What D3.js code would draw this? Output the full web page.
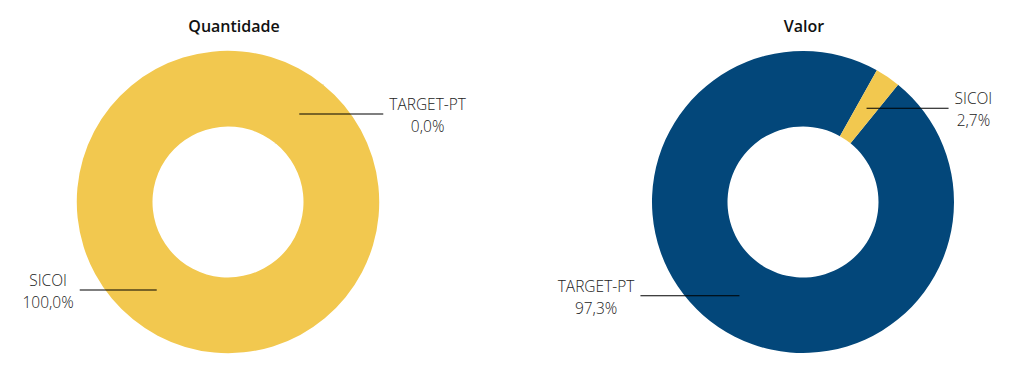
<!DOCTYPE html>
<html>
<head>
<meta charset="utf-8">
<script src="https://cdn.jsdelivr.net/npm/d3@7"></script>
<style>
  html, body { margin: 0; padding: 0; background: #fff; }
  svg { display: block; }
</style>
</head>
<body>
<svg id="chart" width="1030" height="379"></svg>
<script>
// ---- data ----
const categories = ["TARGET-PT", "SICOI"];
const quantidadeValues = [0.0, 100.0];
const valorValues = [97.3, 2.7];
const chartTitles = ["Quantidade", "Valor"];

// ---- layout / style ----
const colors = { "TARGET-PT": "#03477A", "SICOI": "#F2C84F" };
const W = 1030, H = 379;
const outerR = 151, innerR = 75.5;
const startAngle = 39 * Math.PI / 180;
const panels = [
  { title: chartTitles[0], values: quantidadeValues, cx: 228, cy: 202, titleX: 234,
    lineLen: { "TARGET-PT": 84, "SICOI": 77 } },
  { title: chartTitles[1], values: valorValues, cx: 803, cy: 202, titleX: 804,
    lineLen: { "TARGET-PT": 99, "SICOI": 82 } }
];

const svg = d3.select("#chart");
const fmt = v => d3.format(".1f")(v).replace(".", ",") + "%";

const pie = d3.pie().sort(null).value(d => d.value)
  .startAngle(startAngle).endAngle(startAngle + 2 * Math.PI);
const arc = d3.arc().innerRadius(innerR).outerRadius(outerR);

panels.forEach(p => {
  const g = svg.append("g").attr("transform", `translate(${p.cx},${p.cy})`);
  const data = categories.map((c, i) => ({ name: c, value: p.values[i] }));
  const arcs = pie(data);

  svg.append("text")
    .attr("x", p.titleX).attr("y", 32)
    .attr("text-anchor", "middle")
    .attr("font-family", "'Open Sans', sans-serif")
    .attr("font-weight", 600)
    .attr("font-size", 16)
    .attr("fill", "#111")
    .text(p.title);

  g.selectAll("path.slice")
    .data(arcs)
    .join("path")
    .attr("class", "slice")
    .attr("d", arc)
    .attr("fill", d => colors[d.data.name])
    .attr("stroke", d => d.data.value === 0 ? "#b8b090" : "none")
    .attr("stroke-width", d => d.data.value === 0 ? 0.6 : 0);

  arcs.forEach(a => {
    const [x0, y0] = arc.centroid(a);
    const mid = (a.startAngle + a.endAngle) / 2;
    const right = Math.sin(mid) > 0;
    const len = p.lineLen[a.data.name];
    const x1 = right ? x0 + len : x0 - len;
    g.append("line")
      .attr("x1", x0).attr("y1", y0).attr("x2", x1).attr("y2", y0)
      .attr("stroke", "#000").attr("stroke-width", 1.2);

    const tg = g.append("g");
    const t1 = tg.append("text").attr("y", y0 - 4)
      .attr("text-anchor", "middle")
      .attr("font-family", "'Open Sans', sans-serif")
      .attr("font-weight", 300)
      .attr("font-size", 15.5).attr("fill", "#222")
      .text(a.data.name);
    const t2 = tg.append("text").attr("y", y0 + 18)
      .attr("text-anchor", "middle")
      .attr("font-family", "'Open Sans', sans-serif")
      .attr("font-weight", 300)
      .attr("font-size", 15.5).attr("fill", "#222")
      .text(fmt(a.data.value));
    const w = Math.max(t1.node().getComputedTextLength(), t2.node().getComputedTextLength());
    const cx = right ? x1 + 6 + w / 2 : x1 - 6 - w / 2;
    t1.attr("x", cx); t2.attr("x", cx);
  });
});
</script>
</body>
</html>
